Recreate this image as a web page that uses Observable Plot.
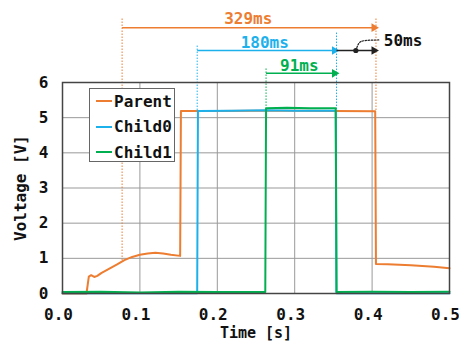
<!DOCTYPE html>
<html>
<head>
<meta charset="utf-8">
<script src="https://cdn.jsdelivr.net/npm/d3@7"></script>
<script src="https://cdn.jsdelivr.net/npm/@observablehq/plot@0.6"></script>
<style>
  html, body { margin: 0; padding: 0; background: #fff; }
  #wrap { position: relative; width: 459px; height: 343px; overflow: hidden; }
  #legend { position: absolute; left: 89px; top: 88px; width: 86px; height: 74px; background: #fff;
    border: 1px solid #666; box-sizing: border-box; font: bold 16px "DejaVu Sans Mono", monospace; color: #111; }
  .row { position: absolute; left: 0; height: 20px; display: flex; align-items: center; }
  .sw { width: 16px; height: 0; border-top: 2px solid; margin-left: 6px; margin-right: 2px; }
</style>
</head>
<body>
<div id="wrap"></div>
<script>
// ---- data ----
const seriesNames = ["Parent", "Child0", "Child1"];
const seriesColors = ["#ED7D31", "#1DB1EC", "#00B050"];

const parentT = [0, 0.031, 0.034, 0.037, 0.041, 0.045, 0.05, 0.06, 0.07, 0.08, 0.09, 0.1, 0.11, 0.12, 0.13, 0.14, 0.152, 0.153, 0.2, 0.25, 0.3, 0.35, 0.404, 0.405, 0.42, 0.45, 0.48, 0.5];
const parentV = [0, 0, 0.48, 0.52, 0.47, 0.5, 0.58, 0.7, 0.82, 0.95, 1.04, 1.1, 1.14, 1.16, 1.14, 1.1, 1.07, 5.19, 5.19, 5.2, 5.2, 5.19, 5.18, 0.84, 0.83, 0.8, 0.76, 0.72];

const child0T = [0, 0.174, 0.175, 0.22, 0.263, 0.3, 0.353, 0.354, 0.4, 0.5];
const child0V = [0.01, 0.01, 5.19, 5.2, 5.21, 5.2, 5.2, 0.01, 0.01, 0.01];

const child1T = [0, 0.05, 0.1, 0.15, 0.2, 0.262, 0.263, 0.29, 0.32, 0.353, 0.354, 0.4, 0.45, 0.5];
const child1V = [0.04, 0.05, 0.03, 0.05, 0.04, 0.04, 5.27, 5.28, 5.27, 5.27, 0.04, 0.05, 0.04, 0.05];

const xTicks = [0, 0.1, 0.2, 0.3, 0.4, 0.5];
const yTicks = [0, 1, 2, 3, 4, 5, 6];
const xTitle = "Time [s]";
const yTitle = "Voltage [V]";

// span annotations
const spanLabels = ["329ms", "180ms", "91ms"];
const spanStart = [0.077, 0.174, 0.263];
const spanEnd = [0.405, 0.354, 0.354];
const spanLevel = [7.56, 6.91, 6.26];
const spanLabelX = [0.240, 0.2613, 0.306];
const spanLabelY = [7.80, 7.14, 6.48];

// dotted guide lines
const guideT = [0.077, 0.405, 0.174, 0.354, 0.263];
const guideTop = [7.82, 7.82, 7.05, 7.42, 6.40];
const guideBottom = [0.95, 5.18, 5.2, 5.2, 5.28];
const guideSeries = [0, 0, 1, 1, 2];

// 50ms gap annotation
const gapStart = 0.354, gapEnd = 0.405, gapLevel = 6.91, gapDotT = 0.379;
const gapLabel = "50ms", gapLabelX = 0.44, gapLabelY = 7.19;
const leaderT = [0.379, 0.3825, 0.39, 0.4095];
const leaderV = [6.91, 7.10, 7.19, 7.21];

// ---- build tables ----
const toRows = (T, V, name) => T.map((t, i) => ({t, v: V[i], name}));
const lines = [toRows(parentT, parentV, "Parent"), toRows(child0T, child0V, "Child0"), toRows(child1T, child1V, "Child1")];
const spans = spanLabels.map((s, i) => ({s, a: spanStart[i], b: spanEnd[i], y: spanLevel[i], lx: spanLabelX[i], ly: spanLabelY[i], c: seriesColors[i]}));
const guides = guideT.map((t, i) => ({t, y1: guideTop[i], y2: guideBottom[i], c: seriesColors[guideSeries[i]]}));
const leader = leaderT.map((t, i) => ({t, v: leaderV[i]}));

const font = "DejaVu Sans Mono, monospace";

const chart = Plot.plot({
  width: 459, height: 343,
  marginLeft: 62, marginRight: 10, marginTop: 82, marginBottom: 50,
  style: {fontFamily: font, fontWeight: "bold", fontSize: "16px", color: "#111", background: "#fff", overflow: "visible"},
  x: {domain: [0, 0.5], label: null},
  y: {domain: [0, 6], label: null},
  marks: [
    Plot.gridX(xTicks.slice(1, -1), {stroke: "#999", strokeOpacity: 1, strokeWidth: 1}),
    Plot.gridY(yTicks.slice(1, -1), {stroke: "#999", strokeOpacity: 1, strokeWidth: 1}),
    Plot.axisX({ticks: xTicks, tickSize: 0, tickPadding: 15, dx: -4, tickFormat: d3.format(".1f"), fontSize: 16, fontWeight: "bold"}),
    Plot.axisX({ticks: [], tickSize: 0, fontSize: 15, fontWeight: "bold",
      label: xTitle, labelAnchor: "center", labelOffset: 44, labelArrow: "none"}),
    Plot.axisY({ticks: yTicks, tickSize: 0, tickPadding: 14, tickFormat: d => String(d), fontSize: 16, fontWeight: "bold",
      label: yTitle, labelAnchor: "center", labelOffset: 48, labelArrow: "none"}),
    // guides
    Plot.link(guides, {x1: "t", x2: "t", y1: "y1", y2: "y2", stroke: "c", strokeWidth: 1, strokeDasharray: "1.5,1.5"}),
    // data lines
    ...lines.map((rows, i) => Plot.line(rows, {x: "t", y: "v", stroke: seriesColors[i], strokeWidth: 2})),
    Plot.frame({stroke: "#444", strokeWidth: 1.5}),
    // span arrows
    Plot.link(spans, {x1: "a", x2: "b", y1: "y", y2: "y", stroke: "c", strokeWidth: 1.5}),
    Plot.dot(spans, {x: "b", y: "y", symbol: "triangle", rotate: 90, r: 3.2, fill: "c", stroke: "none", dx: -2}),
    Plot.text(spans, {x: "lx", y: "ly", text: "s", fill: "c", fontSize: 16, fontWeight: "bold"}),
    // 50ms gap
    Plot.link([{a: gapStart, b: gapEnd, y: gapLevel}], {x1: "a", x2: "b", y1: "y", y2: "y", stroke: "#222", strokeWidth: 1.5}),
    Plot.dot([{t: gapEnd, y: gapLevel}], {x: "t", y: "y", symbol: "triangle", rotate: 90, r: 3.2, fill: "#222", dx: -2}),
    Plot.dot([{t: gapDotT, y: gapLevel}], {x: "t", y: "y", r: 2.6, fill: "#222"}),
    Plot.line(leader, {x: "t", y: "v", curve: "natural", stroke: "#222", strokeWidth: 1.2, strokeDasharray: "1.5,1.5"}),
    Plot.text([gapLabel], {x: gapLabelX, y: gapLabelY, text: d => d, fill: "#111", fontSize: 16, fontWeight: "bold"})
  ]
});

const wrap = document.getElementById("wrap");
wrap.appendChild(chart);

// legend overlay
const legend = document.createElement("div");
legend.id = "legend";
seriesNames.forEach((n, i) => {
  const row = document.createElement("div");
  row.className = "row";
  row.style.top = (2 + i * 25.5) + "px";
  const sw = document.createElement("span");
  sw.className = "sw";
  sw.style.borderTopColor = seriesColors[i];
  const tx = document.createElement("span");
  tx.textContent = n;
  row.appendChild(sw); row.appendChild(tx);
  legend.appendChild(row);
});
wrap.appendChild(legend);
</script>
</body>
</html>
